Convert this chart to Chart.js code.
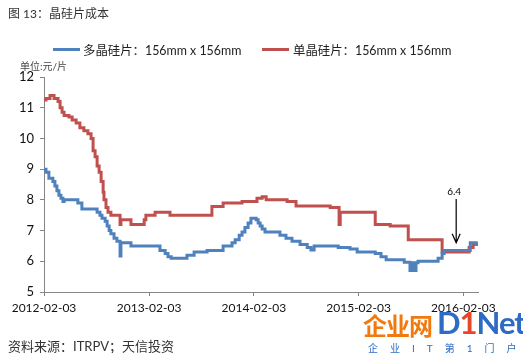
<!DOCTYPE html>
<html>
<head>
<meta charset="utf-8">
<script src="https://cdn.jsdelivr.net/npm/chart.js@4/dist/chart.umd.min.js"></script>
<style>
  html, body { margin: 0; padding: 0; background: #fff; }
  #wrap { position: relative; width: 523px; height: 353px; overflow: hidden; font-family: "Lato", "Noto Sans CJK SC", sans-serif; }
  #chart { position: absolute; left: 0; top: 0; }
  .txt { position: absolute; white-space: nowrap; color: #222; }
  .seg { position: absolute; height: 3px; width: 27px; }
</style>
</head>
<body>
<div id="wrap">
  <canvas id="chart" width="523" height="353"></canvas>
  <div class="txt" style="left:8px;top:4px;font-size:12px;color:#333;">图 13：晶硅片成本</div>
  <div class="seg" style="left:53px;top:48px;background:#4F81BD;"></div>
  <div class="txt" id="lg1" style="left:83px;top:41px;font-size:12.4px;"></div>
  <div class="seg" style="left:262px;top:48px;background:#C0504D;"></div>
  <div class="txt" id="lg2" style="left:293px;top:41px;font-size:12.4px;"></div>
  <div class="txt" style="left:20px;top:58px;font-size:10px;color:#444;">单位:元/片</div>
  <div class="txt" style="left:8px;top:336px;font-size:13px;color:#333;">资料来源：ITRPV；天信投资</div>
  <!-- watermark -->
  <div class="txt" style="left:363px;top:307px;font-size:24px;font-weight:bold;color:#F07A10;letter-spacing:-1px;">企业网</div>
  <div class="txt" style="left:437px;top:303px;font-size:31px;font-weight:bold;color:#2D6BC4;letter-spacing:-1px;">D<span style="color:#E8452A">1</span>Net</div>
  <div class="txt" style="left:368px;top:340px;font-size:10px;color:#2D6BC4;letter-spacing:12px;">企业IT第1门户</div>
</div>
<script>
// ─── Dados ────────────────────────────────────────────────────────────────────
const seriesNames = ['多晶硅片：156mm x 156mm', '单晶硅片：156mm x 156mm'];
const tickDays    = [0, 366, 731, 1096, 1461];   // dias desde 2012-02-03
const tickLabels  = ['2012-02-03', '2013-02-03', '2014-02-03', '2015-02-03', '2016-02-03'];
const yTicks      = [5, 6, 7, 8, 9, 10, 11, 12];

// multicristalino (dias desde 2012-02-03, preço)
const polyDays = [0, 7, 17, 31, 38, 45, 52, 59, 66, 70, 118, 132, 185, 195, 202, 213, 220, 227, 233, 244,
  254, 265, 268, 303, 404, 422, 432, 443, 498, 523, 568, 624, 655, 666, 680, 690, 700, 711, 721, 739,
  746, 753, 760, 770, 822, 843, 864, 892, 917, 930, 941, 1025, 1066, 1091, 1154, 1174, 1192, 1255, 1275, 1279,
  1286, 1289, 1293, 1296, 1303, 1373, 1387, 1394, 1485, 1506, 1512];
const polyCost = [9.0, 8.9, 8.7, 8.6, 8.45, 8.3, 8.15, 8.05, 7.95, 8.0, 7.9, 7.7, 7.6, 7.5, 7.4, 7.3, 7.15, 7.0, 6.9, 6.75,
  6.65, 6.17, 6.6, 6.5, 6.35, 6.25, 6.15, 6.1, 6.2, 6.3, 6.35, 6.5, 6.6, 6.7, 6.85, 6.95, 7.1, 7.25, 7.4, 7.35,
  7.25, 7.15, 7.05, 6.95, 6.85, 6.75, 6.65, 6.55, 6.45, 6.37, 6.5, 6.45, 6.4, 6.3, 6.25, 6.15, 6.05, 5.97, 5.7, 5.95,
  5.7, 5.95, 5.7, 5.95, 6.0, 6.1, 6.25, 6.35, 6.6, 6.55, 6.55];

// monocristalino
const monoDays = [0, 7, 21, 35, 49, 56, 63, 70, 87, 98, 112, 125, 139, 153, 164, 171, 178, 185, 192, 199,
  206, 209, 216, 223, 233, 265, 268, 303, 349, 355, 387, 439, 585, 624, 690, 742, 760, 774, 847, 878,
  997, 1028, 1032, 1154, 1206, 1269, 1387, 1481, 1495, 1512];
const monoCost = [11.25, 11.3, 11.4, 11.3, 11.2, 11.0, 10.85, 10.75, 10.7, 10.6, 10.5, 10.35, 10.25, 10.15, 10.0, 9.6, 9.4, 9.1, 8.9, 8.6,
  8.25, 8.0, 7.75, 7.6, 7.5, 7.2, 7.35, 7.2, 7.35, 7.5, 7.6, 7.5, 7.78, 7.9, 7.95, 8.05, 8.1, 8.0, 7.95, 7.8,
  7.75, 7.2, 7.6, 7.2, 7.15, 6.7, 6.3, 6.45, 6.55, 6.6];

// anotação "6.4"
const noteText = '6.4';
const noteDay  = 1436;
const noteFrom = 8.03;
const noteTo   = 6.6;

document.getElementById('lg1').textContent = seriesNames[0];
document.getElementById('lg2').textContent = seriesNames[1];

const FONT = { family: 'Lato, "Noto Sans CJK SC", sans-serif', size: 12 };
const AXIS = '#868686';

// ─── Plugin da seta ───────────────────────────────────────────────────────────
const setaPlugin = {
  id: 'seta',
  afterDatasetsDraw(chart) {
    const { ctx, scales } = chart;
    const x  = scales.x.getPixelForValue(noteDay);
    const y1 = scales.y.getPixelForValue(noteFrom);
    const y2 = scales.y.getPixelForValue(noteTo);
    ctx.save();
    ctx.strokeStyle = '#000';
    ctx.lineWidth = 1.2;
    ctx.beginPath();
    ctx.moveTo(x, y1);
    ctx.lineTo(x, y2);
    ctx.moveTo(x - 4, y2 - 9);
    ctx.lineTo(x, y2);
    ctx.lineTo(x + 4, y2 - 9);
    ctx.stroke();
    ctx.fillStyle = '#000';
    ctx.font = '10px Lato, sans-serif';
    ctx.textAlign = 'center';
    ctx.textBaseline = 'bottom';
    ctx.fillText(noteText, x - 2, y1 - 2);
    ctx.restore();
  },
};

const toPts = (days, vals) => days.map((d, i) => ({ x: d, y: vals[i] }));

new Chart(document.getElementById('chart'), {
  type: 'line',
  data: {
    datasets: [
      { label: seriesNames[0], data: toPts(polyDays, polyCost), borderColor: '#4F81BD', borderWidth: 3, pointRadius: 0, stepped: true },
      { label: seriesNames[1], data: toPts(monoDays, monoCost), borderColor: '#C0504D', borderWidth: 3, pointRadius: 0, stepped: true },
    ],
  },
  options: {
    responsive: false,
    animation: false,
    layout: { padding: { left: 0, right: 45, top: 77, bottom: 37 } },
    plugins: { legend: { display: false }, tooltip: { enabled: false } },
    scales: {
      x: {
        type: 'linear',
        min: 0,
        max: 1512,
        afterBuildTicks: s => { s.ticks = tickDays.map(v => ({ value: v })); },
        afterFit: s => { s.height = 24; },
        ticks: { callback: (v, i) => tickLabels[i], color: '#111', font: FONT, maxRotation: 0, padding: 5 },
        grid: { drawOnChartArea: false, tickLength: 4, color: AXIS },
        border: { color: AXIS },
      },
      y: {
        min: 5,
        max: 12,
        afterBuildTicks: s => { s.ticks = yTicks.map(v => ({ value: v })); },
        afterFit: s => { s.width = 44; },
        ticks: { color: '#111', font: { ...FONT, size: 13 }, padding: 6 },
        grid: { drawOnChartArea: false, tickLength: 4, color: AXIS },
        border: { color: AXIS },
      },
    },
  },
  plugins: [setaPlugin],
});
</script>
</body>
</html>
